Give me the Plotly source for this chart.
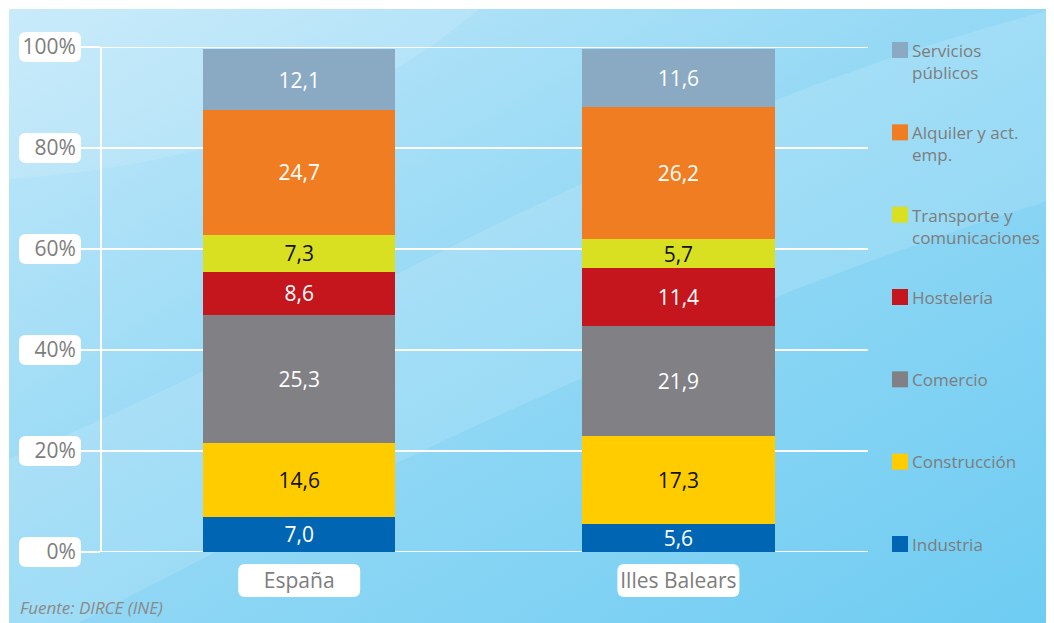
import base64
import numpy as np
import plotly.graph_objects as go

# ---------------- data ----------------
categories = ["España", "Illes Balears"]
series_names = ["Industria", "Construcción", "Comercio", "Hostelería",
                "Transporte y comunicaciones", "Alquiler y act. emp.", "Servicios públicos"]
legend_labels = ["Industria", "Construcción", "Comercio", "Hostelería",
                 "Transporte y<br>comunicaciones", "Alquiler y act.<br>emp.", "Servicios<br>públicos"]
industria = [7.0, 5.6]
construccion = [14.6, 17.3]
comercio = [25.3, 21.9]
hosteleria = [8.6, 11.4]
transporte = [7.3, 5.7]
alquiler = [24.7, 26.2]
servicios = [12.1, 11.6]
values = [industria, construccion, comercio, hosteleria, transporte, alquiler, servicios]
y_ticks = [0, 20, 40, 60, 80, 100]
y_tick_labels = ["0%", "20%", "40%", "60%", "80%", "100%"]
source_text = "Fuente: DIRCE (INE)"

# ---------------- style ----------------
colors = ["#0066B3", "#FFCC00", "#808085", "#C4161C", "#D9E021", "#F07D22", "#8AAAC4"]
text_colors = ["white", "#111111", "white", "white", "#111111", "white", "white"]
FONT = "Open Sans"
GREY = "#7D7D7D"

# page body has an 8px margin: figure is sized to fit in the window
W, H = 1046, 615
L, T = 94, 39
PW, PH = 766, 505
R, B = W - L - PW, H - T - PH
XR = [-0.52, 1.50]

# helpers expressed in window pixel coordinates
PL, PT = 102, 47


def px(x):
    return (x - PL) / PW


def py(y):
    return (PT + PH - y) / PH


def rrect(x0, y0, x1, y1, r):
    return (
        f"M {px(x0 + r)},{py(y0)} L {px(x1 - r)},{py(y0)} "
        f"Q {px(x1)},{py(y0)} {px(x1)},{py(y0 + r)} "
        f"L {px(x1)},{py(y1 - r)} Q {px(x1)},{py(y1)} {px(x1 - r)},{py(y1)} "
        f"L {px(x0 + r)},{py(y1)} Q {px(x0)},{py(y1)} {px(x0)},{py(y1 - r)} "
        f"L {px(x0)},{py(y0 + r)} Q {px(x0)},{py(y0)} {px(x0 + r)},{py(y0)} Z"
    )


fig = go.Figure()
for name, vals, col, tcol in zip(series_names, values, colors, text_colors):
    fig.add_trace(go.Bar(
        x=categories, y=vals, name=name,
        marker=dict(color=col, line=dict(width=0)),
        width=0.507,
        texttemplate="%{y:.1f}", textposition="inside",
        insidetextanchor="middle", textangle=0,
        textfont=dict(family=FONT, size=21, color=tcol),
        showlegend=False, hoverinfo="skip",
    ))

# background (gradient) as an inline SVG image
bw, bh = 1045, 614
svg = f'''<svg xmlns="http://www.w3.org/2000/svg" width="{bw}" height="{bh}" viewBox="0 0 {bw} {bh}" preserveAspectRatio="none">
<defs>
<linearGradient id="g" x1="0" y1="0" x2="1" y2="1">
<stop offset="0" stop-color="#C2E8FA"/>
<stop offset="0.45" stop-color="#96D9F5"/>
<stop offset="1" stop-color="#6ECCF2"/>
</linearGradient>
</defs>
<rect x="0" y="0" width="{bw}" height="{bh}" fill="url(#g)"/>
<path d="M0,450 C300,330 620,110 {bw},0 L{bw},190 C720,290 360,460 70,{bh} L0,{bh} Z" fill="#FFFFFF" fill-opacity="0.13"/>
<path d="M0,0 L470,0 C330,120 150,160 0,170 Z" fill="#FFFFFF" fill-opacity="0.12"/>
</svg>'''
src = "data:image/svg+xml;base64," + base64.b64encode(svg.encode("utf-8")).decode()

shapes = []
annotations = []

# gridlines at the range edges (plotly skips them)
for v in (y_ticks[0], y_ticks[-1]):
    shapes.append(dict(type="line", xref="paper", yref="y", layer="below",
                       x0=px(82), x1=1, y0=v, y1=v,
                       line=dict(color="white", width=2)))

# rounded white boxes behind the y tick labels
for v in y_ticks:
    yc = (PT + PH) - v / 100 * PH
    shapes.append(dict(type="path", xref="paper", yref="paper", layer="below",
                       path=rrect(19, yc - 15, 81, yc + 15, 7),
                       fillcolor="white", line=dict(width=0)))

# rounded white boxes behind the category labels
for i, c in enumerate(categories):
    xc = PL + (i - XR[0]) / (XR[1] - XR[0]) * PW
    shapes.append(dict(type="path", xref="paper", yref="paper", layer="below",
                       path=rrect(xc - 61, 564, xc + 61, 597, 7),
                       fillcolor="white", line=dict(width=0)))

# manual legend
leg_y = np.linspace(50, 544, len(series_names))
for k, idx in enumerate(range(len(series_names) - 1, -1, -1)):
    yc = leg_y[k]
    shapes.append(dict(type="rect", xref="paper", yref="paper", layer="above",
                       x0=px(892), x1=px(908), y0=py(yc - 8), y1=py(yc + 8),
                       fillcolor=colors[idx], line=dict(width=0)))
    lab = legend_labels[idx]
    if "<br>" in lab:
        annotations.append(dict(xref="paper", yref="paper", x=px(910), y=py(yc - 13),
                                xanchor="left", yanchor="top", align="left",
                                text=lab, showarrow=False,
                                font=dict(family=FONT, size=17, color=GREY)))
    else:
        annotations.append(dict(xref="paper", yref="paper", x=px(910), y=py(yc),
                                xanchor="left", yanchor="middle", align="left",
                                text=lab, showarrow=False,
                                font=dict(family=FONT, size=17, color=GREY)))

annotations.append(dict(xref="paper", yref="paper", x=px(18), y=py(607),
                        xanchor="left", yanchor="middle",
                        text=f"<i>{source_text}</i>", showarrow=False,
                        font=dict(family=FONT, size=17, color="#8A8A8A")))

fig.update_layout(
    width=W, height=H,
    margin=dict(l=L, r=R, t=T, b=B, pad=0),
    barmode="stack",
    separators=",.",
    paper_bgcolor="white",
    plot_bgcolor="rgba(0,0,0,0)",
    uniformtext=dict(minsize=21, mode="show"),
    images=[dict(source=src, xref="paper", yref="paper",
                 x=px(9), y=py(9), sizex=bw / PW, sizey=bh / PH,
                 xanchor="left", yanchor="top", sizing="stretch", layer="below")],
    shapes=shapes,
    annotations=annotations,
    xaxis=dict(type="category", range=XR, showgrid=False, zeroline=False,
               showline=False, ticks="", ticklabelstandoff=14,
               tickfont=dict(family=FONT, size=21, color=GREY)),
    yaxis=dict(range=[0, 100], tickvals=y_ticks, ticktext=y_tick_labels,
               showgrid=True, gridcolor="white", gridwidth=2,
               zeroline=False, showline=True, linecolor="white", linewidth=2,
               ticks="outside", ticklen=20, tickwidth=2, tickcolor="white",
               tickfont=dict(family=FONT, size=21, color=GREY)),
    showlegend=False,
)

fig.write_html("out.html")
